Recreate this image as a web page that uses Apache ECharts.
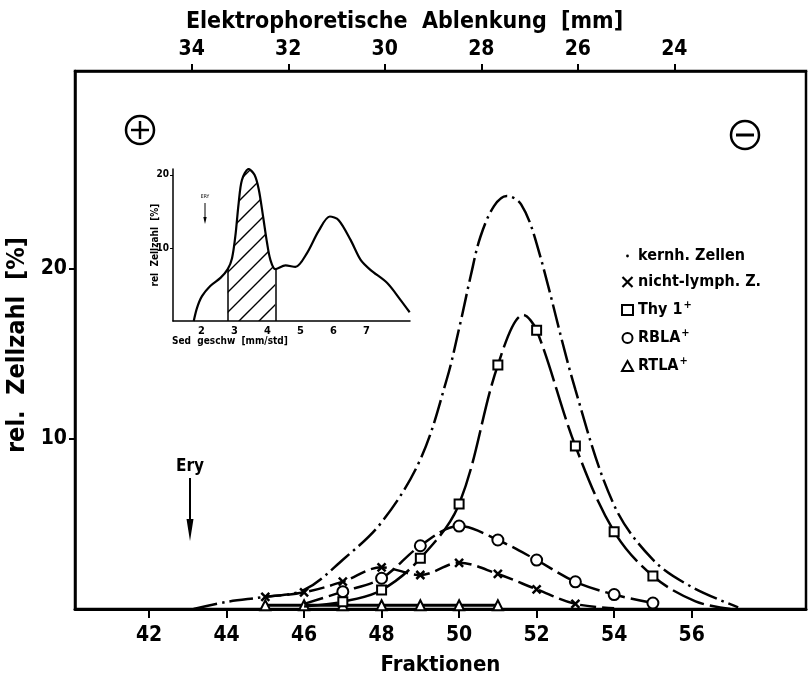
<!DOCTYPE html>
<html>
<head>
<meta charset="utf-8">
<script src="https://cdn.jsdelivr.net/npm/echarts@6/dist/echarts.min.js"></script>
<style>
  html, body { margin: 0; padding: 0; background: #fff; }
  #chart { width: 811px; height: 688px; }
</style>
</head>
<body>
<div id="chart"></div>
<script>
const FONT = "'DejaVu Sans Condensed', 'Liberation Sans Narrow', sans-serif";

// Axis ticks
const fractionTicks = [42, 44, 46, 48, 50, 52, 54, 56];
const deflectionTicks = [24, 26, 28, 30, 32, 34];
const percentTicks = [10, 20];

// Nucleated cells: drawn as a plain dash-dot curve
const kernhFrac = [43.15, 44, 45, 46, 47, 48, 49, 49.68, 50.03, 50.3, 50.55, 50.9, 51.23, 51.6, 52.0, 53.0, 54.0, 55.0, 56.0, 57.2];
const kernhVal  = [0, 0.42, 0.72, 1.12, 2.9, 5.1, 8.8, 13.5, 16.8, 19.6, 21.9, 23.7, 24.3, 23.8, 21.5, 12.9, 6.1, 2.9, 1.3, 0.1];

// Non-lymphoid cells (x markers)
const nlFrac = [45, 46, 47, 48, 49, 50, 51, 52, 53];
const nlVal  = [0.72, 0.98, 1.61, 2.45, 2.0, 2.72, 2.06, 1.16, 0.3];
const nlTailFrac = [54];
const nlTailVal  = [0.05];

// Thy 1+ cells (squares)
const thyFrac = [47, 48, 49, 50, 51, 52, 53, 54, 55];
const thyVal  = [0.43, 1.12, 2.98, 6.18, 14.35, 16.4, 9.59, 4.55, 1.94];
const thyCurveFrac = [46, 51.66, 56.1, 57.0];
const thyCurveVal  = [0.15, 17.3, 0.45, 0];

// RBLA+ cells (circles)
const rblaFrac = [47, 48, 49, 50, 51, 52, 53, 54, 55];
const rblaVal  = [1.02, 1.81, 3.72, 4.88, 4.06, 2.88, 1.6, 0.85, 0.35];
const rblaCurveFrac = [46];
const rblaCurveVal  = [0.3];

// RTLA+ cells (triangles)
const rtlaFrac = [45, 46, 47, 48, 49, 50, 51];
const rtlaVal  = [0.22, 0.22, 0.22, 0.22, 0.22, 0.22, 0.22];

// Inset: sedimentation velocity profile
const sedRate  = [1.77, 1.87, 2.02, 2.27, 2.58, 2.80, 2.93, 3.03, 3.13, 3.23, 3.43, 3.61, 3.74, 3.87, 3.99, 4.09, 4.24, 4.55, 4.85, 5.20, 5.55, 5.89, 6.16, 6.52, 6.82, 7.12, 7.63, 8.03, 8.31];
const sedCount = [0.0, 1.8, 3.4, 4.8, 5.9, 7.1, 8.6, 11.6, 16.1, 19.3, 20.8, 20.0, 18.0, 14.3, 10.7, 8.4, 7.1, 7.6, 7.4, 9.3, 12.3, 14.3, 13.8, 11.1, 8.4, 7.0, 5.2, 2.9, 1.2];
const hatchFrom = 2.80;
const hatchTo = 4.24;
const sedTicks = [2, 3, 4, 5, 6, 7];
const sedCountTicks = [10, 20];

// merge marker points and curve-only points into one sorted line
function buildLine(mx, my, cx, cy) {
  const pts = [];
  mx.forEach((x, i) => pts.push({ value: [x, my[i]] }));
  (cx || []).forEach((x, i) => pts.push({ value: [x, cy[i]], symbol: 'none' }));
  pts.sort((a, b) => a.value[0] - b.value[0]);
  return pts;
}

const CROSS = 'path://M0,0L10,10M10,0L0,10';
const DOT = 'path://M0,0M10,10M3.6,5A1.4,1.4,0,1,0,6.4,5A1.4,1.4,0,1,0,3.6,5Z';
const hollow = { color: '#fff', borderColor: '#000', borderWidth: 2 };

// diagonal hatching for the selected window of the inset
const hatch = document.createElement('canvas');
hatch.width = 20; hatch.height = 20;
(function () {
  const c = hatch.getContext('2d');
  c.strokeStyle = '#000';
  c.lineWidth = 1.4;
  c.beginPath();
  c.moveTo(0, 20); c.lineTo(20, 0);
  c.moveTo(-5, 5); c.lineTo(5, -5);
  c.moveTo(15, 25); c.lineTo(25, 15);
  c.stroke();
})();

const sedData = sedRate.map((x, i) => [x, sedCount[i]]);
const hatchData = sedData.filter(p => p[0] >= hatchFrom && p[0] <= hatchTo);
const hatchFromVal = sedCount[sedRate.indexOf(hatchFrom)];
const hatchToVal = sedCount[sedRate.indexOf(hatchTo)];

const tickFont = { fontFamily: FONT, fontSize: 21, fontWeight: 'bold', color: '#000' };
const titleFont = { fontFamily: FONT, fontWeight: 'bold', color: '#000' };

const chart = echarts.init(document.getElementById('chart'), null, { renderer: 'canvas' });

chart.setOption({
  animation: false,
  backgroundColor: '#fff',
  textStyle: { fontFamily: FONT, color: '#000' },
  grid: [
    { left: 75, top: 71, width: 731, height: 538, outerBoundsMode: 'none', containLabel: false,
      show: true, borderColor: '#000', borderWidth: 2.5, backgroundColor: 'transparent' },
    { left: 173, top: 169, width: 237, height: 152, outerBoundsMode: 'none', containLabel: false, show: false }
  ],
  xAxis: [
    {
      gridIndex: 0, type: 'value', position: 'bottom', min: 40.09, max: 58.95,
      name: 'Fraktionen', nameLocation: 'middle', nameGap: 45,
      nameTextStyle: { ...titleFont, fontSize: 22 },
      axisLine: { show: true, lineStyle: { color: '#000', width: 3 } },
      axisTick: { show: true, inside: false, length: 9, customValues: fractionTicks, lineStyle: { color: '#000', width: 2 } },
      axisLabel: { customValues: fractionTicks, margin: 16, ...tickFont },
      splitLine: { show: false }
    },
    {
      gridIndex: 0, type: 'value', position: 'top', inverse: true, min: 21.27, max: 36.42,
      name: 'Elektrophoretische  Ablenkung  [mm]', nameLocation: 'middle', nameGap: 37,
      nameTextStyle: { ...titleFont, fontSize: 23, padding: [0, 72, 0, 0] },
      axisLine: { show: true, lineStyle: { color: '#000', width: 2.5 } },
      axisTick: { show: true, inside: false, length: 7, customValues: deflectionTicks, lineStyle: { color: '#000', width: 2 } },
      axisLabel: { customValues: deflectionTicks, margin: 11, ...tickFont },
      splitLine: { show: false }
    },
    {
      gridIndex: 1, type: 'value', min: 1.142, max: 8.32,
      axisLine: { show: true, lineStyle: { color: '#000', width: 1.5 } },
      axisTick: { show: false },
      axisLabel: { customValues: sedTicks, margin: 5, fontFamily: FONT, fontSize: 11, fontWeight: 'bold', color: '#000' },
      splitLine: { show: false }
    }
  ],
  yAxis: [
    {
      gridIndex: 0, type: 'value', min: 0, max: 31.65,
      name: 'rel.  Zellzahl  [%]', nameLocation: 'middle', nameGap: 38,
      nameTextStyle: { ...titleFont, fontSize: 25, padding: [0, 10, 0, 0] },
      axisLine: { show: true, lineStyle: { color: '#000', width: 2.5 } },
      axisTick: { show: true, length: 6, customValues: percentTicks, lineStyle: { color: '#000', width: 2 } },
      axisLabel: { customValues: percentTicks, margin: 8, ...tickFont },
      splitLine: { show: false }
    },
    {
      gridIndex: 1, type: 'value', min: 0, max: 20.8,
      axisLine: { show: true, lineStyle: { color: '#000', width: 1.5 } },
      axisTick: { show: true, length: 3, customValues: sedCountTicks, lineStyle: { color: '#000', width: 1 } },
      axisLabel: { customValues: sedCountTicks, margin: 4, fontFamily: FONT, fontSize: 10, fontWeight: 'bold', color: '#000' },
      splitLine: { show: false }
    }
  ],
  legend: {
    orient: 'vertical', left: 616, top: 243, itemWidth: 11, itemHeight: 10, itemGap: 10,
    selectedMode: false,
    textStyle: {
      fontFamily: FONT, fontSize: 16, fontWeight: 'bold', color: '#000',
      rich: {
        t: { fontFamily: FONT, fontSize: 16, fontWeight: 'bold', color: '#000', lineHeight: 20 },
        s: { fontFamily: FONT, fontSize: 11, fontWeight: 'bold', color: '#000', padding: [0, 0, 9, 1] }
      }
    },
    formatter: name => name.endsWith('+') ? '{t|' + name.slice(0, -1) + '}{s|+}' : '{t|' + name + '}',
    data: [
      { name: 'kernh. Zellen', icon: DOT, itemStyle: { color: '#000', borderWidth: 0 } },
      { name: 'nicht-lymph. Z.', icon: CROSS, itemStyle: { color: '#000', borderColor: '#000', borderWidth: 2.2 } },
      { name: 'Thy 1+', icon: 'rect', itemStyle: hollow },
      { name: 'RBLA+', icon: 'circle', itemStyle: hollow },
      { name: 'RTLA+', icon: 'triangle', itemStyle: hollow }
    ]
  },
  graphic: [
    // anode / cathode signs
    { type: 'circle', shape: { cx: 140, cy: 130, r: 14 }, style: { fill: 'none', stroke: '#000', lineWidth: 2.5 } },
    { type: 'line', shape: { x1: 131, y1: 130, x2: 149, y2: 130 }, style: { stroke: '#000', lineWidth: 2.5 } },
    { type: 'line', shape: { x1: 140, y1: 121, x2: 140, y2: 139 }, style: { stroke: '#000', lineWidth: 2.5 } },
    { type: 'circle', shape: { cx: 745, cy: 135, r: 14 }, style: { fill: 'none', stroke: '#000', lineWidth: 2.5 } },
    { type: 'line', shape: { x1: 736, y1: 135, x2: 754, y2: 135 }, style: { stroke: '#000', lineWidth: 3 } },
    // erythrocyte position
    { type: 'text', x: 190, y: 467, style: { text: 'Ery', font: 'bold 17px ' + FONT, fill: '#000', align: 'center', verticalAlign: 'middle' } },
    { type: 'line', shape: { x1: 190, y1: 478, x2: 190, y2: 525 }, style: { stroke: '#000', lineWidth: 2 } },
    { type: 'polygon', shape: { points: [[186.5, 519], [193.5, 519], [190, 541]] }, style: { fill: '#000' } },
    // inset labels
    { type: 'text', x: 155, y: 245, rotation: Math.PI / 2, style: { text: 'rel  Zellzahl  [%]', font: 'bold 10px ' + FONT, fill: '#000', align: 'center', verticalAlign: 'middle' } },
    { type: 'text', x: 172, y: 341, style: { text: 'Sed  geschw  [mm/std]', font: 'bold 10px ' + FONT, fill: '#000', align: 'left', verticalAlign: 'middle' } },
    { type: 'text', x: 205, y: 197, style: { text: 'ERY', font: '5px ' + FONT, fill: '#000', align: 'center', verticalAlign: 'middle' } },
    { type: 'line', shape: { x1: 205, y1: 203, x2: 205, y2: 219 }, style: { stroke: '#000', lineWidth: 1 } },
    { type: 'polygon', shape: { points: [[203.3, 217], [206.7, 217], [205, 224]] }, style: { fill: '#000' } }
  ],
  series: [
    {
      name: 'kernh. Zellen', type: 'line', xAxisIndex: 0, yAxisIndex: 0, smooth: 0.35,
      showSymbol: false, symbol: 'none',
      data: kernhFrac.map((x, i) => [x, kernhVal[i]]),
      lineStyle: { color: '#000', width: 2.5, type: [24, 5, 2.5, 5] },
      itemStyle: { color: '#000' }, z: 2
    },
    {
      name: 'RTLA+', type: 'line', xAxisIndex: 0, yAxisIndex: 0, smooth: false,
      symbol: 'triangle', symbolSize: 10, showAllSymbol: true,
      data: buildLine(rtlaFrac, rtlaVal),
      lineStyle: { color: '#000', width: 3, type: 'solid' },
      itemStyle: hollow, z: 3
    },
    {
      name: 'nicht-lymph. Z.', type: 'line', xAxisIndex: 0, yAxisIndex: 0, smooth: 0.35,
      symbol: CROSS, symbolSize: 8, showAllSymbol: true,
      data: buildLine(nlFrac, nlVal, nlTailFrac, nlTailVal),
      lineStyle: { color: '#000', width: 2.5, type: [16, 6] },
      itemStyle: { color: '#000', borderColor: '#000', borderWidth: 2.5 }, z: 4
    },
    {
      name: 'RBLA+', type: 'line', xAxisIndex: 0, yAxisIndex: 0, smooth: 0.35,
      symbol: 'circle', symbolSize: 11, showAllSymbol: true,
      data: buildLine(rblaFrac, rblaVal, rblaCurveFrac, rblaCurveVal),
      lineStyle: { color: '#000', width: 2.5, type: [20, 6] },
      itemStyle: hollow, z: 5
    },
    {
      name: 'Thy 1+', type: 'line', xAxisIndex: 0, yAxisIndex: 0, smooth: 0.35,
      symbol: 'rect', symbolSize: 9, showAllSymbol: true,
      data: buildLine(thyFrac, thyVal, thyCurveFrac, thyCurveVal),
      lineStyle: { color: '#000', width: 2.5, type: [34, 6] },
      itemStyle: hollow, z: 6
    },
    // inset profile
    {
      name: 'Sedimentation', type: 'line', xAxisIndex: 2, yAxisIndex: 1, smooth: 0.3,
      symbol: 'none', data: sedData,
      lineStyle: { color: '#000', width: 2.2 }, z: 3
    },
    {
      name: 'Fenster', type: 'line', xAxisIndex: 2, yAxisIndex: 1, smooth: 0.3,
      symbol: 'none', data: hatchData,
      lineStyle: { width: 0 },
      areaStyle: { color: { image: hatch, repeat: 'repeat' }, opacity: 1, origin: 'start' },
      markLine: {
        silent: true, symbol: ['none', 'none'], label: { show: false },
        lineStyle: { color: '#000', width: 1.5, type: 'solid' },
        data: [
          [{ coord: [hatchFrom, 0] }, { coord: [hatchFrom, hatchFromVal] }],
          [{ coord: [hatchTo, 0] }, { coord: [hatchTo, hatchToVal] }]
        ]
      },
      z: 2
    }
  ]
});
</script>
</body>
</html>
